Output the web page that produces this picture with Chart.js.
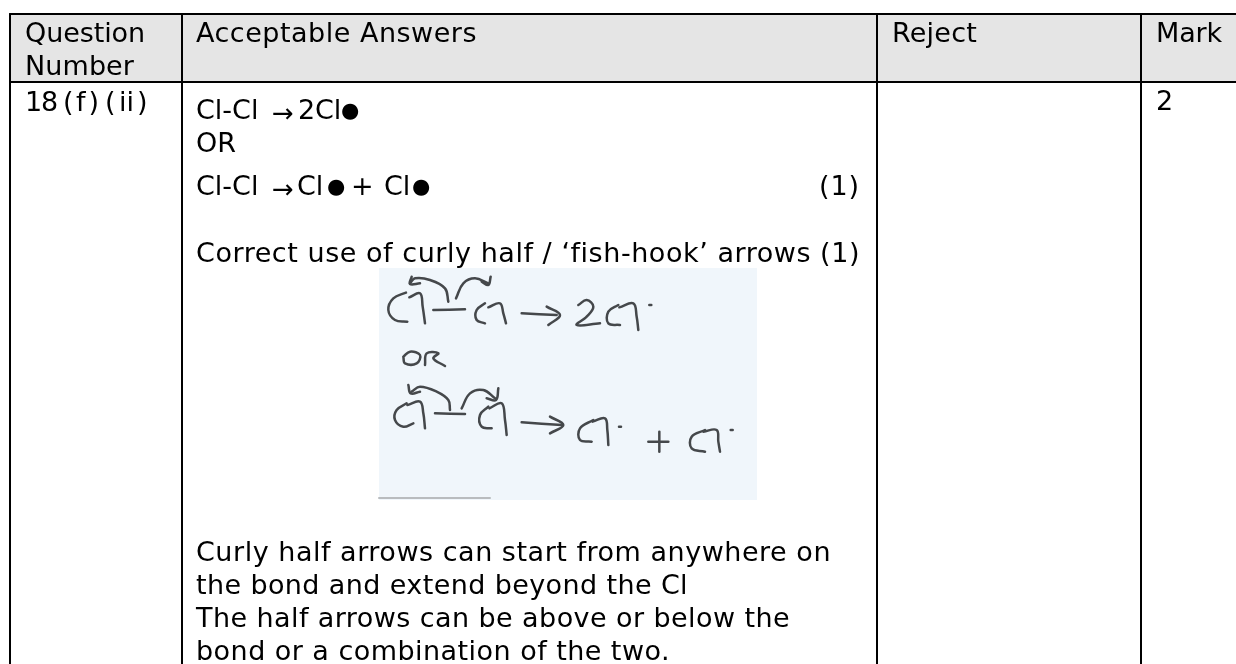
<!DOCTYPE html>
<html><head><meta charset="utf-8">
<style>html,body{margin:0;padding:0;background:#fff}canvas{display:block}</style>
<script src="https://cdn.jsdelivr.net/npm/chart.js@4"></script>
</head><body><canvas id="c" width="1236" height="664"></canvas>
<script>
const columnEdges = [10, 182, 877, 1141];
const rowEdges = [14, 82];
// text, left, baseline, right end
const textLines = [
 ["Question", 25, 41.5, 145], ["Number", 25, 75, 134], ["Acceptable Answers", 196, 41.5, 477],
 ["Reject", 892, 41.5, 977], ["Mark", 1156, 41.5, 1222], ["2", 1156, 110, 1173],
 ["OR", 196, 152, 236], ["(1)", 819, 195, 860],
 ["Correct use of curly half / ‘fish-hook’ arrows (1)", 196, 262, 860],
 ["Curly half arrows can start from anywhere on", 196, 561, 831],
 ["the bond and extend beyond the Cl", 196, 594, 688],
 ["The half arrows can be above or below the", 196, 627, 790],
 ["bond or a combination of the two.", 196, 660, 670]
];
const equationPieces = [
 ["Cl-Cl", 196, 119], ["2", 298, 119], ["Cl", 315, 119],
 ["Cl-Cl", 196, 195], ["Cl", 297, 195], ["+", 351, 195], ["Cl", 384, 195]
];
const equationArrows = [["→", 272, 121.5], ["→", 272, 197.5]];
const equationDots = [["●", 341, 117], ["●", 327, 193], ["●", 412, 193]];
const questionNumber = ["1", "8", "(", "f", ")", "(", "ii", ")"];
const questionX = [25, 41, 63, 76, 88.5, 105, 119, 137];
const photoBox = [379, 268, 757, 500];
const inkStrokes = [
 [[108,98],[70,115],[55,150],[75,180],[112,185]], [[118,112],[150,100],[158,140],[165,190]],
 [[190,150],[285,148]], [[120,70],[135,55],[180,60],[225,85],[235,125]], [[125,50],[120,72],[150,70]],
 [[258,115],[280,70],[315,55],[355,70]], [[335,65],[355,75],[362,50]],
 [[345,130],[320,150],[320,180],[345,190]], [[355,142],[390,130],[400,160],[408,190]],
 [[455,160],[560,165]], [[530,140],[570,165],[535,195]],
 [[625,135],[650,120],[670,140],[650,170],[620,195],[690,190]],
 [[745,135],[715,155],[715,190],[750,195]], [[748,142],[790,130],[800,170],[805,210]], [[838,135],[844,135]],
 [[100,290],[120,275],[150,285],[140,310],[105,310],[100,290]], [[165,315],[170,280],[205,280],[190,295],[225,318]],
 [[125,395],[150,380],[200,395],[235,420],[240,450]], [[115,375],[122,400],[150,395]],
 [[275,445],[300,400],[340,390],[375,415]], [[350,415],[378,420],[385,385]],
 [[110,430],[80,450],[75,480],[100,500],[130,490]], [[112,435],[150,425],[160,460],[165,505]],
 [[195,460],[285,462]], [[355,440],[330,465],[335,500],[365,505]], [[358,445],[395,430],[405,480],[410,525]],
 [[455,487],[575,495]], [[540,470],[580,495],[540,520]],
 [[670,480],[630,505],[630,540],[665,545]], [[668,485],[705,475],[712,510],[715,555]], [[747,500],[753,500]],
 [[835,545],[895,545]], [[868,515],[868,575]],
 [[1005,510],[965,530],[965,565],[1005,575]], [[1000,515],[1040,510],[1045,545],[1050,575]], [[1082,510],[1088,510]]
];
const photoEdge = [[379,498],[490,498]];

const WIDTH = 1236, HEIGHT = 664, FONT = '27px "DejaVu Sans"', ARROW_FONT = '26px "DejaVu Sans"', DOT_FONT = '21px "DejaVu Sans"';
const rect = (x0,y0,x1,y1) => [{x:x0,y:y0},{x:x1,y:y0},{x:x1,y:y1},{x:x0,y:y1},{x:x0,y:y0}];
const fillSet = (data,color,order) => ({data,showLine:true,fill:'shape',backgroundColor:color,borderWidth:0,pointRadius:0,order});
const lineSet = (data,color,w,order,tension=0) => ({data,showLine:true,fill:false,borderColor:color,borderWidth:w,pointRadius:0,tension,order,borderCapStyle:'round',borderJoinStyle:'round'});
const toPage = ([x,y]) => ({x:x/3+370,y:y/3+260});
const datasets = [
 fillSet(rect(columnEdges[0],rowEdges[0],WIDTH,rowEdges[1]),'#e5e5e5',30),
 fillSet(rect(photoBox[0],photoBox[1],photoBox[2],photoBox[3]),'#f0f6fb',29),
 lineSet(photoEdge.map(([x,y])=>({x,y})),'#b9bcbf',2,20),
 ...inkStrokes.map(s=>lineSet(s.map(toPage),'#45484b',2.5,10,0.4)),
 ...columnEdges.map(x=>lineSet([{x,y:rowEdges[0]},{x,y:HEIGHT}],'#000',2,1)),
 ...rowEdges.map(y=>lineSet([{x:columnEdges[0],y},{x:WIDTH,y}],'#000',2,1))
];
const tableText = {id:'tableText',afterDatasetsDraw(chart){
 const {ctx,scales:{x,y}} = chart;
 ctx.save();ctx.font=FONT;ctx.fillStyle='#000';ctx.textBaseline='alphabetic';
 const put=([t,px,py])=>ctx.fillText(t,x.getPixelForValue(px),y.getPixelForValue(py));
 textLines.forEach(([t,l,b,r])=>{
  ctx.letterSpacing='0px';
  const w=ctx.measureText(t).width;
  ctx.letterSpacing=((r-l-w)/t.length).toFixed(3)+'px';
  put([t,l,b]);
 });
 ctx.letterSpacing='0px';
 equationPieces.forEach(put);
 questionNumber.forEach((t,i)=>put([t,questionX[i],110.5]));
 ctx.font=ARROW_FONT;
 equationArrows.forEach(put);
 ctx.font=DOT_FONT;
 equationDots.forEach(put);
 ctx.restore();
}};
new Chart(document.getElementById('c'),{type:'scatter',data:{datasets},plugins:[tableText],options:{
 responsive:false,animation:false,events:[],layout:{padding:0},
 plugins:{legend:{display:false},tooltip:{enabled:false},title:{display:false}},
 scales:{x:{type:'linear',display:false,min:0,max:WIDTH},y:{type:'linear',display:false,reverse:true,min:0,max:HEIGHT}}
}});
</script></body></html>
